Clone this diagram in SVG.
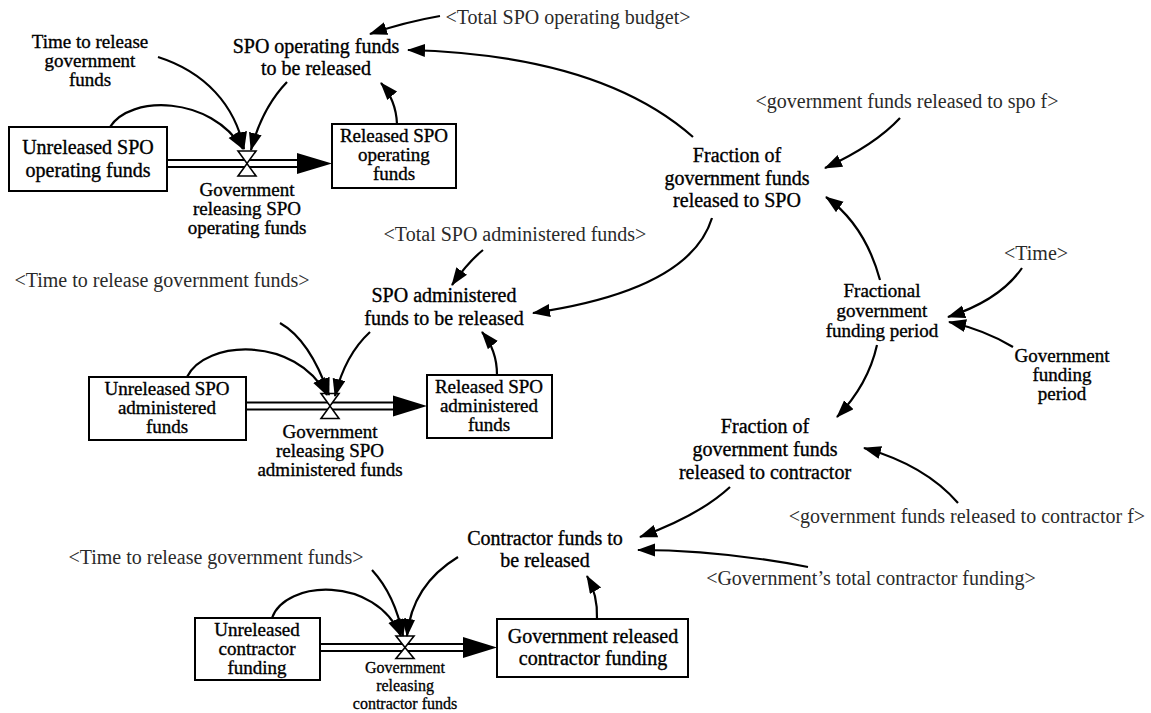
<svg xmlns="http://www.w3.org/2000/svg" width="1151" height="713" viewBox="0 0 1151 713">
  <style>
    .lbl { font-family: "Liberation Serif", "Times New Roman", serif; font-size: 20px; fill: #000; stroke: #000; stroke-width: 0.35; text-anchor: middle; }
    .tight { font-size: 19px; }
    .small { font-size: 16px; stroke-width: 0.3; }
    .shd { font-family: "Liberation Serif", "Times New Roman", serif; font-size: 20px; fill: #2a2a2a; text-anchor: middle; }
    .stock { fill: #fff; stroke: #000; stroke-width: 2; }
    .link { fill: none; stroke: #000; stroke-width: 2.2; marker-end: url(#arr); }
    .pipe-out { fill: none; stroke: #000; stroke-width: 9; }
    .pipe-in { fill: none; stroke: #fff; stroke-width: 5; }
    .valve { fill: #fff; stroke: #000; stroke-width: 1.6; }
  </style>
  <defs>
    <marker id="arr" markerUnits="userSpaceOnUse" markerWidth="20" markerHeight="14" refX="17" refY="6.5" orient="auto">
      <path d="M0,0 L18,6.5 L0,13 z" fill="#000"/>
    </marker>
  </defs>
  <rect width="1151" height="713" fill="#fff"/>

  <!-- material flows (pipes with valves) -->
  <g id="flows">
    <g id="flow-spo-operating">
      <path class="pipe-out" d="M167,163.5 H300"/>
      <path class="pipe-in" d="M165,163.5 H300"/>
      <polygon points="297,153 332,163.5 297,174" fill="#000"/>
      <polygon class="valve" points="238,151 256,151 247,163.5"/>
      <polygon class="valve" points="238,176 256,176 247,163.5"/>
    </g>
    <g id="flow-spo-administered">
      <path class="pipe-out" d="M246,406 H396"/>
      <path class="pipe-in" d="M244,406 H396"/>
      <polygon points="393,395.5 427,406 393,416.5" fill="#000"/>
      <polygon class="valve" points="321,393.5 339,393.5 330,406"/>
      <polygon class="valve" points="321,418.5 339,418.5 330,406"/>
    </g>
    <g id="flow-contractor">
      <path class="pipe-out" d="M320,647.5 H466"/>
      <path class="pipe-in" d="M318,647.5 H466"/>
      <polygon points="463,637 497,647.5 463,658" fill="#000"/>
      <polygon class="valve" points="396,636 414,636 405,647.5"/>
      <polygon class="valve" points="396,658.5 414,658.5 405,647.5"/>
    </g>
  </g>

  <!-- information links -->
  <g id="connectors">
    <path class="link" d="M110,127 C130,95 210,95 243,149"/>
    <path class="link" d="M158,57 C205,72 235,105 244,149"/>
    <path class="link" d="M287,82 Q262,108 251,150"/>
    <path class="link" d="M397,124 Q396,100 381,83"/>
    <path class="link" d="M440,16 Q405,22 370,34"/>
    <path class="link" d="M693,137 Q600,55 408,50"/>
    <path class="link" d="M900,118 Q875,145 825,168"/>
    <path class="link" d="M880,280 Q865,225 826,197"/>
    <path class="link" d="M712,218 Q690,290 533,313"/>
    <path class="link" d="M1022,268 Q1000,300 948,317"/>
    <path class="link" d="M1013,347 Q985,330 949,322"/>
    <path class="link" d="M877,345 Q868,385 837,417"/>
    <path class="link" d="M958,503 Q925,465 864,448"/>
    <path class="link" d="M730,487 Q700,515 640,537"/>
    <path class="link" d="M808,567 Q720,550 638,550"/>
    <path class="link" d="M483,250 Q468,262 452,285"/>
    <path class="link" d="M187,377 C205,340 295,335 327,395"/>
    <path class="link" d="M280,323 Q310,340 329,395"/>
    <path class="link" d="M370,332 Q345,355 335,396"/>
    <path class="link" d="M497,375 Q497,350 482,332"/>
    <path class="link" d="M272,618 C285,580 375,575 401,636"/>
    <path class="link" d="M372,570 Q395,595 403,636"/>
    <path class="link" d="M458,557 Q412,585 407,636"/>
    <path class="link" d="M597,619 Q598,595 587,576"/>
  </g>

  <!-- stocks -->
  <g id="unreleased-spo-operating">
    <rect class="stock" x="9" y="127" width="158" height="64"/>
    <text class="lbl" x="88" y="154">Unreleased SPO</text>
    <text class="lbl" x="88" y="177">operating funds</text>
  </g>
  <g id="released-spo-operating">
    <rect class="stock" x="332" y="124" width="124" height="64"/>
    <text class="lbl tight" x="394" y="142">Released SPO</text>
    <text class="lbl tight" x="394" y="161">operating</text>
    <text class="lbl tight" x="394" y="180">funds</text>
  </g>
  <g id="unreleased-spo-administered">
    <rect class="stock" x="89" y="377" width="157" height="63"/>
    <text class="lbl tight" x="167" y="395">Unreleased SPO</text>
    <text class="lbl tight" x="167" y="414">administered</text>
    <text class="lbl tight" x="167" y="433">funds</text>
  </g>
  <g id="released-spo-administered">
    <rect class="stock" x="427" y="375" width="125" height="63"/>
    <text class="lbl tight" x="489" y="393">Released SPO</text>
    <text class="lbl tight" x="489" y="412">administered</text>
    <text class="lbl tight" x="489" y="431">funds</text>
  </g>
  <g id="unreleased-contractor">
    <rect class="stock" x="195" y="618" width="125" height="62"/>
    <text class="lbl tight" x="257" y="636">Unreleased</text>
    <text class="lbl tight" x="257" y="655">contractor</text>
    <text class="lbl tight" x="257" y="674">funding</text>
  </g>
  <g id="released-contractor">
    <rect class="stock" x="497" y="619" width="191" height="58"/>
    <text class="lbl" x="593" y="643">Government released</text>
    <text class="lbl" x="593" y="665">contractor funding</text>
  </g>

  <!-- rate labels -->
  <g id="rate-spo-operating">
    <text class="lbl tight" x="247" y="196">Government</text>
    <text class="lbl tight" x="247" y="215">releasing SPO</text>
    <text class="lbl tight" x="247" y="234">operating funds</text>
  </g>
  <g id="rate-spo-administered">
    <text class="lbl tight" x="330" y="438">Government</text>
    <text class="lbl tight" x="330" y="457">releasing SPO</text>
    <text class="lbl tight" x="330" y="476">administered funds</text>
  </g>
  <g id="rate-contractor">
    <text class="lbl small" x="405" y="673">Government</text>
    <text class="lbl small" x="405" y="691">releasing</text>
    <text class="lbl small" x="405" y="709">contractor funds</text>
  </g>

  <!-- auxiliaries -->
  <g id="time-to-release">
    <text class="lbl tight" x="90" y="48">Time to release</text>
    <text class="lbl tight" x="90" y="67">government</text>
    <text class="lbl tight" x="90" y="86">funds</text>
  </g>
  <g id="spo-operating-to-release">
    <text class="lbl" x="316" y="53">SPO operating funds</text>
    <text class="lbl" x="316" y="75">to be released</text>
  </g>
  <g id="fraction-to-spo">
    <text class="lbl" x="737" y="162">Fraction of</text>
    <text class="lbl" x="737" y="185">government funds</text>
    <text class="lbl" x="737" y="207">released to SPO</text>
  </g>
  <g id="fractional-period">
    <text class="lbl tight" x="882" y="297">Fractional</text>
    <text class="lbl tight" x="882" y="317">government</text>
    <text class="lbl tight" x="882" y="337">funding period</text>
  </g>
  <g id="funding-period">
    <text class="lbl tight" x="1062" y="362">Government</text>
    <text class="lbl tight" x="1062" y="381">funding</text>
    <text class="lbl tight" x="1062" y="400">period</text>
  </g>
  <g id="spo-administered-to-release">
    <text class="lbl" x="444" y="302">SPO administered</text>
    <text class="lbl" x="444" y="325">funds to be released</text>
  </g>
  <g id="fraction-to-contractor">
    <text class="lbl" x="765" y="433">Fraction of</text>
    <text class="lbl" x="765" y="456">government funds</text>
    <text class="lbl" x="765" y="479">released to contractor</text>
  </g>
  <g id="contractor-to-release">
    <text class="lbl" x="545" y="545">Contractor funds to</text>
    <text class="lbl" x="545" y="567">be released</text>
  </g>

  <!-- shadow variables -->
  <g id="shadow-total-operating-budget"><text class="shd" x="568" y="24">&lt;Total SPO operating budget&gt;</text></g>
  <g id="shadow-funds-released-spo-f"><text class="shd" x="907" y="108">&lt;government funds released to spo f&gt;</text></g>
  <g id="shadow-total-administered"><text class="shd" x="515" y="241">&lt;Total SPO administered funds&gt;</text></g>
  <g id="shadow-time-to-release-1"><text class="shd" x="162" y="287">&lt;Time to release government funds&gt;</text></g>
  <g id="shadow-time"><text class="shd" x="1036" y="260">&lt;Time&gt;</text></g>
  <g id="shadow-funds-released-contractor-f"><text class="shd" x="967" y="523">&lt;government funds released to contractor f&gt;</text></g>
  <g id="shadow-total-contractor"><text class="shd" x="871" y="585">&lt;Government’s total contractor funding&gt;</text></g>
  <g id="shadow-time-to-release-2"><text class="shd" x="216" y="564">&lt;Time to release government funds&gt;</text></g>
</svg>
